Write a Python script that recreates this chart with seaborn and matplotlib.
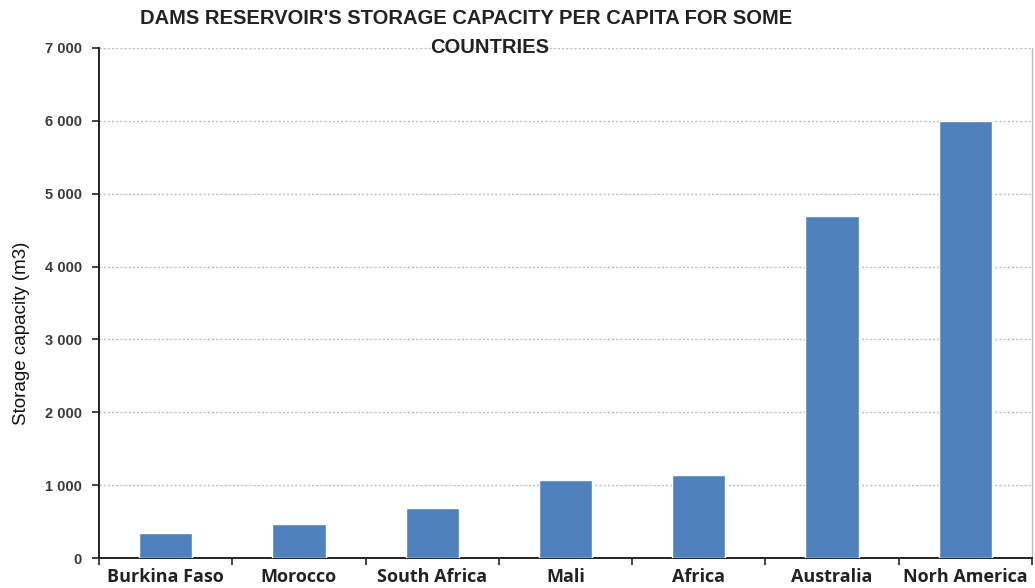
import matplotlib
matplotlib.use("Agg")
import matplotlib.pyplot as plt
from matplotlib.ticker import FuncFormatter, FixedLocator
import seaborn as sns
import pandas as pd

# Reservoir storage capacity per capita (m3)
countries = ["Burkina Faso", "Morocco", "South Africa", "Mali", "Africa", "Australia", "Norh America"]
capacity = [350, 470, 680, 1070, 1140, 4690, 6000]
y_ticks = [0, 1000, 2000, 3000, 4000, 5000, 6000, 7000]
title_lines = ["DAMS RESERVOIR'S STORAGE CAPACITY PER CAPITA FOR SOME", "COUNTRIES"]

df = pd.DataFrame({"country": countries, "capacity": capacity})

sns.set_theme(style="white")
plt.rcParams["font.family"] = ["Liberation Sans", "DejaVu Sans"]

W, H = 1035, 588
fig = plt.figure(figsize=(W / 100, H / 100), dpi=100)
ax = fig.add_axes([99 / W, 1 - 558 / H, (1032 - 99) / W, (558 - 48) / H])

sns.barplot(data=df, x="country", y="capacity", color="#4F81BD", saturation=1,
            width=0.4, ax=ax, zorder=3)

ax.set_xlim(-0.5, len(countries) - 0.5)
ax.set_ylim(0, 7000)
ax.set_yticks(y_ticks)
ax.yaxis.set_major_formatter(FuncFormatter(lambda v, p: f"{int(v):,}".replace(",", " ")))

# dotted horizontal gridlines
ax.yaxis.grid(True, linestyle=(0, (1.5, 1.5)), color="#bdbdbd", linewidth=1.0, zorder=0)
ax.xaxis.grid(False)

# spines
for s in ["left", "bottom"]:
    ax.spines[s].set_color("#222222")
    ax.spines[s].set_linewidth(1.4)
ax.spines["top"].set_visible(False)
ax.spines["right"].set_visible(True)
ax.spines["right"].set_color("#bbbbbb")
ax.spines["right"].set_linewidth(1.0)

# tick marks on category boundaries
ax.xaxis.set_minor_locator(FixedLocator([i - 0.5 for i in range(len(countries) + 1)]))
ax.tick_params(axis="x", which="major", length=0, pad=7)
ax.tick_params(axis="x", which="minor", length=5, width=1.2, color="#222222", direction="out", bottom=True)
ax.tick_params(axis="y", which="major", length=5, width=1.2, color="#222222", direction="out", left=True,
               labelsize=10.5, labelcolor="#3a3a3a", pad=7.5)
for lab in ax.get_xticklabels():
    lab.set_fontfamily(["Open Sans", "DejaVu Sans"])
    lab.set_fontweight("bold")
    lab.set_fontsize(13)
    lab.set_color("#222222")
for lab in ax.get_yticklabels():
    lab.set_fontweight("bold")

ax.set_xlabel("")
ax.set_ylabel("Storage capacity (m3)", fontsize=13.5, color="#111111")
ax.yaxis.set_label_coords(30 / W, 1 - 333 / H, transform=fig.transFigure)

# two-line title, each line centred on its own
fig.text(466 / W, 1 - 24 / H, title_lines[0], ha="center", va="baseline",
         fontsize=14.5, fontweight="bold", color="#222222")
fig.text(490 / W, 1 - 53 / H, title_lines[1], ha="center", va="baseline",
         fontsize=14.5, fontweight="bold", color="#222222")

fig.savefig("out.png", dpi=100)
